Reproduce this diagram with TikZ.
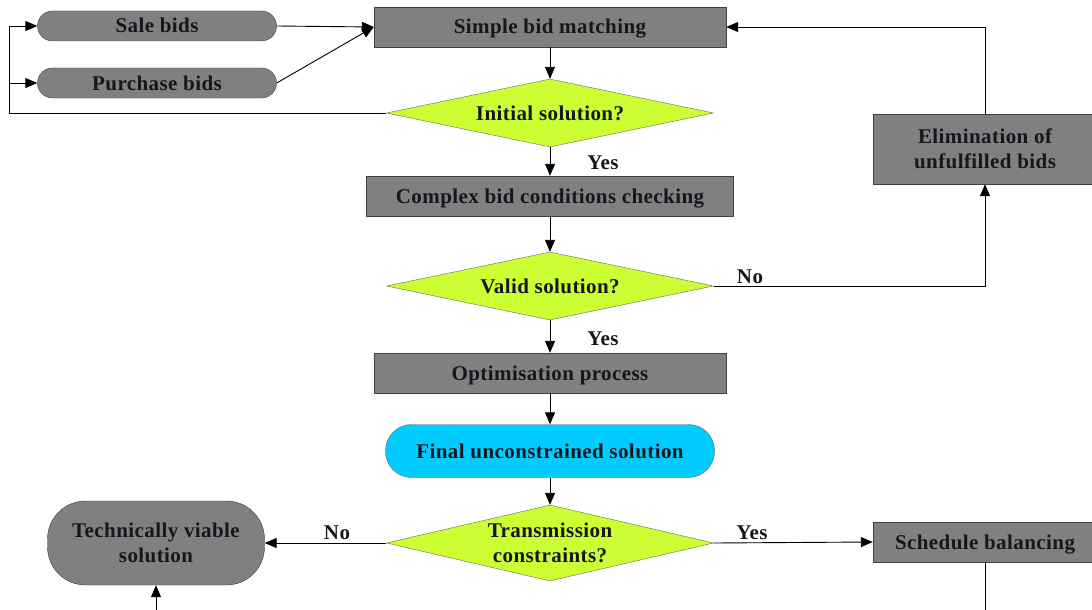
\documentclass[tikz,border=0pt]{standalone}
\usepackage{fontspec}
\setmainfont{Liberation Serif}[LetterSpace=2]
\usetikzlibrary{shapes.geometric,arrows.meta}
\definecolor{boxgray}{RGB}{128,128,128}
\definecolor{limegreen}{RGB}{204,255,51}
\definecolor{skyblue}{RGB}{0,204,255}
\definecolor{textdark}{RGB}{22,22,30}
\newcommand{\bidfont}{\fontsize{21}{25}\selectfont\bfseries}

\begin{document}
\begin{tikzpicture}[x=1pt,y=-1pt]

% definitions
\tikzstyle{process} = [rectangle, minimum width=352pt, minimum height=40pt, inner sep=0pt, align=center, draw=black!75, fill=boxgray, text=textdark, font=\bidfont]

\tikzstyle{oneline} = [text height=14pt, text depth=0pt]

\tikzstyle{bids} = [rectangle, rounded corners=15pt, minimum width=239pt, minimum height=30pt, inner sep=0pt, draw=black!75, fill=boxgray, text=textdark, font=\bidfont, oneline]

\tikzstyle{decision} = [diamond, aspect=4.8, minimum width=327pt, minimum height=68pt, inner sep=0pt, align=center, draw=black!60, fill=limegreen, text=textdark, font=\bidfont]

\tikzstyle{result} = [rectangle, rounded corners=26pt, minimum width=329pt, minimum height=53pt, inner sep=0pt, align=center, draw=black!60, fill=skyblue, text=textdark, font=\bidfont]

\tikzstyle{label} = [inner sep=0pt, text=textdark, font=\bidfont]

\tikzstyle{arrow} = [-{Triangle[length=12pt,width=10pt]}, line width=0.9pt, draw=black]

\useasboundingbox (0,0) rectangle (1092,610);

% the graph
\node (sale) [bids] at (157,26) {Sale bids};

\node (purchase) [bids] at (157,83) {Purchase bids};

\node (match) [process, oneline] at (550,27) {Simple bid matching};

\node (initial) [decision, oneline] at (550,113) {Initial solution?};

\node (complex) [process, oneline, minimum width=367pt] at (550,196) {Complex bid conditions checking};

\node (valid) [decision, oneline] at (550,286) {Valid solution?};

\node (elim) [process, minimum width=224pt, minimum height=70pt] at (985,149) {Elimination of\\unfulfilled bids};

\node (optim) [process, oneline] at (550,373) {Optimisation process};

\node (final) [result, oneline] at (550,451) {Final unconstrained solution};

\node (trans) [decision, minimum height=76pt] at (550,543) {Transmission\\constraints?};

\node (viable) [result, rounded corners=38pt, minimum width=217pt, minimum height=84pt, fill=boxgray, draw=black!75] at (156,543) {Technically viable\\solution};

\node (sched) [process, oneline, minimum width=224pt] at (985,542) {Schedule balancing};

\node (yes1) [label] at (603,163) {Yes};
\node (yes2) [label] at (603,339) {Yes};
\node (no1) [label] at (750,277) {No};
\node (no2) [label] at (337,533) {No};
\node (yes3) [label] at (752,533) {Yes};

\coordinate (loop) at (9,113);
\coordinate (viablein) at (156,615);
\coordinate (schedout) at (985,640);

\draw [arrow] (initial.west) -- (loop) |- (sale.west);
\draw [arrow] (loop) |- (purchase.west);
\draw [arrow] (sale.east) -- (match.west);
\draw [arrow] (purchase.east) -- (match.west);
\draw [arrow] (match) -- (initial);
\draw [arrow] (initial) -- (complex);
\draw [arrow] (complex) -- (valid);
\draw [arrow] (valid.east) -| (elim.south);
\draw [arrow] (elim.north) |- (match.east);
\draw [arrow] (valid) -- (optim);
\draw [arrow] (optim) -- (final);
\draw [arrow] (final) -- (trans);
\draw [arrow] (trans.west) -- (viable.east);
\draw [arrow] (trans.east) -- (sched.west);
\draw [arrow] (viablein) -- (viable.south);
\draw [arrow] (sched.south) -- (schedout);

\end{tikzpicture}
\end{document}
